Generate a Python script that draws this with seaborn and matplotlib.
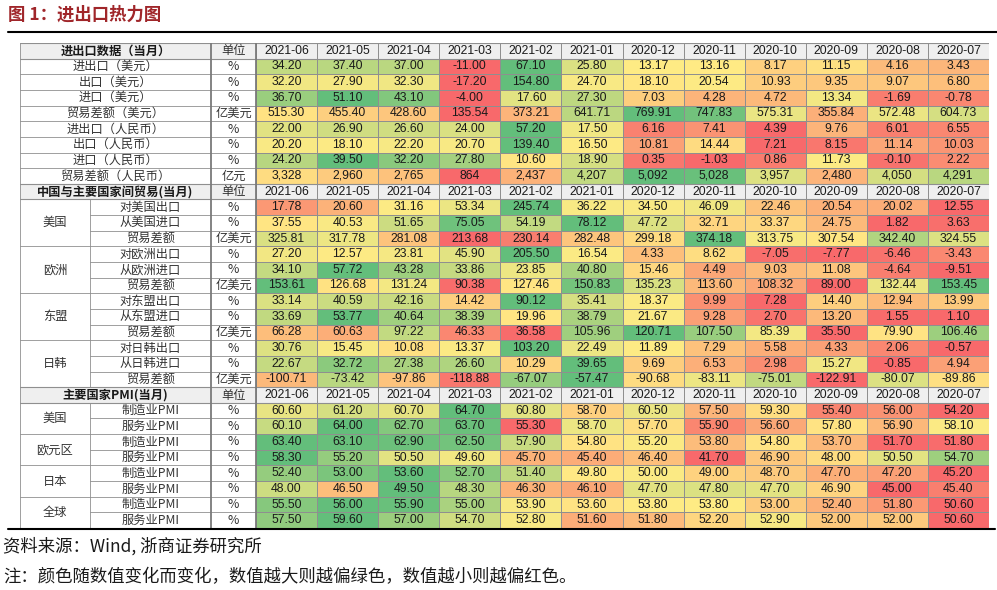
import numpy as np
import seaborn as sns
import matplotlib.pyplot as plt
from matplotlib.colors import LinearSegmentedColormap
from matplotlib.patches import Rectangle
from matplotlib.lines import Line2D

sns.set_style('white')
plt.rcParams['font.family'] = ['Noto Sans CJK SC', 'DejaVu Sans']

dates = ['2021-06', '2021-05', '2021-04', '2021-03', '2021-02', '2021-01',
         '2020-12', '2020-11', '2020-10', '2020-09', '2020-08', '2020-07']

headers = ['进出口数据（当月）', '中国与主要国家间贸易(当月)', '主要国家PMI(当月)']

# 进出口数据（当月）
trade_labels = ['进出口（美元）', '出口（美元）', '进口（美元）', '贸易差额（美元）',
                '进出口（人民币）', '出口（人民币）', '进口（人民币）', '贸易差额（人民币）']
trade_units = ['%', '%', '%', '亿美元', '%', '%', '%', '亿元']
trade_vals = [
    [34.20, 37.40, 37.00, -11.00, 67.10, 25.80, 13.17, 13.16, 8.17, 11.15, 4.16, 3.43],
    [32.20, 27.90, 32.30, -17.20, 154.80, 24.70, 18.10, 20.54, 10.93, 9.35, 9.07, 6.80],
    [36.70, 51.10, 43.10, -4.00, 17.60, 27.30, 7.03, 4.28, 4.72, 13.34, -1.69, -0.78],
    [515.30, 455.40, 428.60, 135.54, 373.21, 641.71, 769.91, 747.83, 575.31, 355.84, 572.48, 604.73],
    [22.00, 26.90, 26.60, 24.00, 57.20, 17.50, 6.16, 7.41, 4.39, 9.76, 6.01, 6.55],
    [20.20, 18.10, 22.20, 20.70, 139.40, 16.50, 10.81, 14.44, 7.21, 8.15, 11.14, 10.03],
    [24.20, 39.50, 32.20, 27.80, 10.60, 18.90, 0.35, -1.03, 0.86, 11.73, -0.10, 2.22],
    [3328, 2960, 2765, 864, 2437, 4207, 5092, 5028, 3957, 2480, 4050, 4291],
]

# 中国与主要国家间贸易(当月)
partner_groups = ['美国', '欧洲', '东盟', '日韩']
partner_labels = ['对美国出口', '从美国进口', '贸易差额',
                  '对欧洲出口', '从欧洲进口', '贸易差额',
                  '对东盟出口', '从东盟进口', '贸易差额',
                  '对日韩出口', '从日韩进口', '贸易差额']
partner_units = ['%', '%', '亿美元'] * 4
partner_vals = [
    [17.78, 20.60, 31.16, 53.34, 245.74, 36.22, 34.50, 46.09, 22.46, 20.54, 20.02, 12.55],
    [37.55, 40.53, 51.65, 75.05, 54.19, 78.12, 47.72, 32.71, 33.37, 24.75, 1.82, 3.63],
    [325.81, 317.78, 281.08, 213.68, 230.14, 282.48, 299.18, 374.18, 313.75, 307.54, 342.40, 324.55],
    [27.20, 12.57, 23.81, 45.90, 205.50, 16.54, 4.33, 8.62, -7.05, -7.77, -6.46, -3.43],
    [34.10, 57.72, 43.28, 33.86, 23.85, 40.80, 15.46, 4.49, 9.03, 11.08, -4.64, -9.51],
    [153.61, 126.68, 131.24, 90.38, 127.46, 150.83, 135.23, 113.60, 108.32, 89.00, 132.44, 153.45],
    [33.14, 40.59, 42.16, 14.42, 90.12, 35.41, 18.37, 9.99, 7.28, 14.40, 12.94, 13.99],
    [33.69, 53.77, 40.64, 38.39, 19.96, 38.79, 21.67, 9.28, 2.70, 13.20, 1.55, 1.10],
    [66.28, 60.63, 97.22, 46.33, 36.58, 105.96, 120.71, 107.50, 85.39, 35.50, 79.90, 106.46],
    [30.76, 15.45, 10.08, 13.37, 103.20, 22.49, 11.89, 7.29, 5.58, 4.33, 2.06, -0.57],
    [22.67, 32.72, 27.38, 26.60, 10.29, 39.65, 9.69, 6.53, 2.98, 15.27, -0.85, 4.94],
    [-100.71, -73.42, -97.86, -118.88, -67.07, -57.47, -90.68, -83.11, -75.01, -122.91, -80.07, -89.86],
]

# 主要国家PMI(当月)
pmi_groups = ['美国', '欧元区', '日本', '全球']
pmi_labels = ['制造业PMI', '服务业PMI'] * 4
pmi_units = ['%'] * 8
pmi_vals = [
    [60.60, 61.20, 60.70, 64.70, 60.80, 58.70, 60.50, 57.50, 59.30, 55.40, 56.00, 54.20],
    [60.10, 64.00, 62.70, 63.70, 55.30, 58.70, 57.70, 55.90, 56.60, 57.80, 56.90, 58.10],
    [63.40, 63.10, 62.90, 62.50, 57.90, 54.80, 55.20, 53.80, 54.80, 53.70, 51.70, 51.80],
    [58.30, 55.20, 50.50, 49.60, 45.70, 45.40, 46.40, 41.70, 46.90, 48.00, 50.50, 54.70],
    [52.40, 53.00, 53.60, 52.70, 51.40, 49.80, 50.00, 49.00, 48.70, 47.70, 47.20, 45.20],
    [48.00, 46.50, 49.50, 48.30, 46.30, 46.10, 47.70, 47.80, 47.70, 46.90, 45.00, 45.40],
    [55.50, 56.00, 55.90, 55.00, 53.90, 53.60, 53.80, 53.80, 53.00, 52.40, 51.80, 50.60],
    [57.50, 59.60, 57.00, 54.70, 52.80, 51.60, 51.80, 52.20, 52.90, 52.00, 52.00, 50.60],
]


def excel_scale(row):
    # excel 3-colour scale: min -> red, median -> yellow, max -> green
    row = np.asarray(row, dtype=float)
    lo, mid, hi = row.min(), np.median(row), row.max()
    return np.where(row <= mid, 0.5 * (row - lo) / (mid - lo),
                    0.5 + 0.5 * (row - mid) / (hi - mid))


sections = [
    (headers[0], None, trade_labels, trade_units, trade_vals, 8),
    (headers[1], partner_groups, partner_labels, partner_units, partner_vals, 3),
    (headers[2], pmi_groups, pmi_labels, pmi_units, pmi_vals, 2),
]

colour_rows, text_rows = [], []
for title, groups, labels, units, vals, per in sections:
    colour_rows.append([np.nan] * len(dates))
    text_rows.append([''] * len(dates))
    for unit, v in zip(units, vals):
        colour_rows.append(excel_scale(v))
        fmt = '{:,.0f}' if unit == '亿元' else '{:.2f}'
        text_rows.append([fmt.format(x) for x in v])

colour = np.array(colour_rows, dtype=float)
annot = np.array(text_rows, dtype=object)
n_rows, n_cols = colour.shape

cmap = LinearSegmentedColormap.from_list('rdylgn_xl', ['#F8696B', '#FFEB84', '#63BE7B'])

fig = plt.figure(figsize=(9.97, 5.90), dpi=100)
ax = fig.add_axes([20 / 997, 1 - 528 / 590, 969 / 997, 485 / 590])

num_font = ['Liberation Sans', 'Noto Sans CJK SC']
sns.heatmap(colour, mask=np.isnan(colour), cmap=cmap, vmin=0, vmax=1,
            annot=annot, fmt='', cbar=False, linewidths=0.5, linecolor='#8f8f8f',
            annot_kws=dict(fontsize=8.8, color='#1a1a1a', family=num_font), ax=ax)

# column geometry (in data-column units)
x_left = -3.864
x_group = -2.718
x_unit = -0.737
ax.set_xlim(x_left, n_cols)
ax.set_ylim(n_rows, 0)
ax.axis('off')

grid_c = '#8f8f8f'
lab_c = '#333333'
lab_fs = 8.8

r = 0
for title, groups, labels, units, vals, per in sections:
    # header row
    ax.add_patch(Rectangle((x_left, r), n_cols - x_left, 1, facecolor='#efefef',
                           edgecolor='none', zorder=0))
    ax.text((x_left + x_unit) / 2, r + 0.5, title, ha='center', va='center',
            fontsize=lab_fs, fontweight='bold', color='#1a1a1a')
    ax.text(x_unit / 2, r + 0.5, '单位', ha='center', va='center', fontsize=lab_fs, color=lab_c)
    for j, d in enumerate(dates):
        ax.text(j + 0.5, r + 0.5, d, ha='center', va='center', fontsize=8.8,
                family=num_font, color='#1a1a1a')
    for xv in [x_left] + list(range(1, n_cols + 1)):
        ax.plot([xv, xv], [r, r + 1], color=grid_c, lw=0.6)
    ax.plot([x_left, n_cols], [r, r], color=grid_c, lw=0.8)
    ax.plot([x_left, n_cols], [r + 1, r + 1], color=grid_c, lw=0.8)
    r += 1

    start = r
    for i, (lab, unit) in enumerate(zip(labels, units)):
        if groups is None:
            ax.text((x_left + x_unit) / 2, r + 0.5, lab, ha='center', va='center',
                    fontsize=lab_fs, color=lab_c)
        else:
            ax.text((x_group + x_unit) / 2, r + 0.5, lab, ha='center', va='center',
                    fontsize=lab_fs, color=lab_c)
        ax.text(x_unit / 2, r + 0.5, unit, ha='center', va='center', fontsize=lab_fs, color=lab_c)
        if i > 0:
            x0 = x_left if (groups is None or i % per == 0) else x_group
            ax.plot([x0, 0], [r, r], color=grid_c, lw=0.6)
        r += 1

    if groups is not None:
        for g, name in enumerate(groups):
            ax.text((x_left + x_group) / 2, start + g * per + per / 2, name,
                    ha='center', va='center', fontsize=lab_fs, color=lab_c)
        ax.plot([x_group, x_group], [start, r], color=grid_c, lw=0.6)

    ax.plot([x_left, x_left], [start, r], color=grid_c, lw=0.6)

# heavier separators for label / unit / data columns
for xv in [x_unit, 0]:
    ax.plot([xv, xv], [0, n_rows], color='#7a7a7a', lw=1.3)

# page rules and text
fig.add_artist(Line2D([8 / 997, 1.0], [1 - 32 / 590] * 2, color='black', lw=1.5))
fig.add_artist(Line2D([8 / 997, 995 / 997], [1 - 529 / 590] * 2, color='black', lw=1.5))
fig.text(8 / 997, 1 - 15 / 590, '图 1：进出口热力图', color='#a0262a', fontsize=12.5,
         fontweight='bold', va='center')
fig.text(3 / 997, 1 - 546 / 590, '资料来源：Wind, 浙商证券研究所', fontsize=12.5,
         va='center', color='#1a1a1a')
fig.text(3 / 997, 1 - 577 / 590, '注：颜色随数值变化而变化，数值越大则越偏绿色，数值越小则越偏红色。',
         fontsize=12.5, va='center', color='#1a1a1a')

fig.savefig('out.png', dpi=100)
